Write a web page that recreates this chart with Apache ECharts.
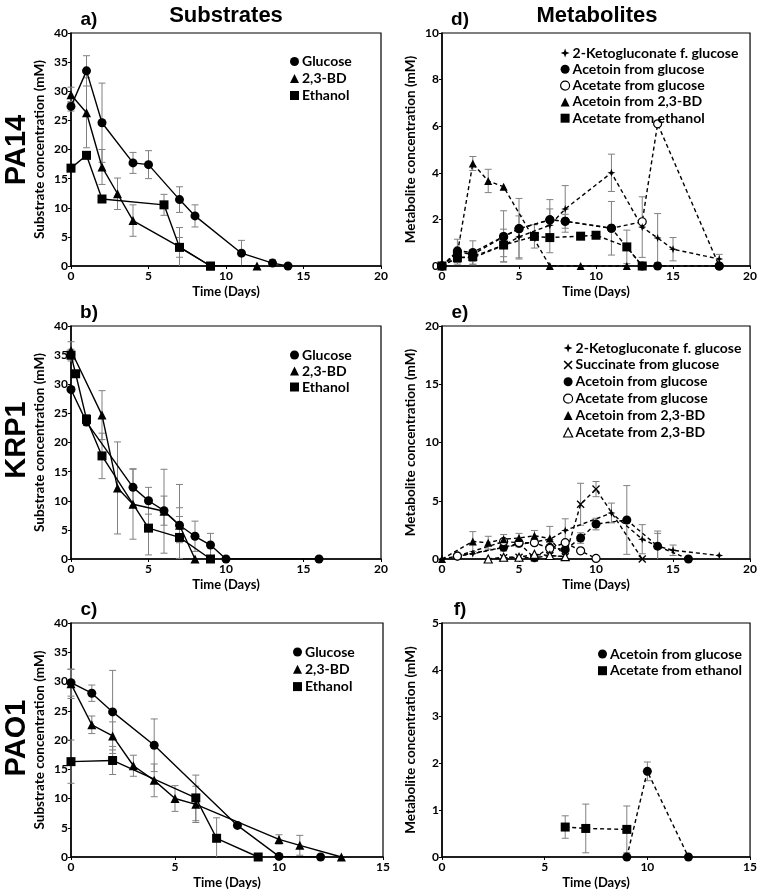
<!DOCTYPE html>
<html><head><meta charset="utf-8">
<script src="https://cdn.jsdelivr.net/npm/echarts@6/dist/echarts.min.js"></script>
<style>html,body{margin:0;padding:0;background:#fff}#c{width:760px;height:896px}</style>
</head><body><div id="c"></div>
<script>
// ---------- Panel a (PA14 substrates) ----------
const aGlucoseX = [0,1,2,4,5,7,8,11,13,14];
const aGlucoseY = [27.4,33.5,24.6,17.7,17.4,11.4,8.6,2.2,0.5,0];
const aGlucoseErr = [0.8,2.6,6.8,1.8,2.4,2.2,1.9,2.2,0.6,0];
const aBdX = [0,1,2,3,4,7,9,12];
const aBdY = [29.4,26.3,17.0,12.4,7.8,3.3,0,0];
const aBdErr = [1.3,6.0,3.0,2.7,2.7,3.3,0,0];
const aEthX = [0,1,2,6,7,9];
const aEthY = [16.8,19.0,11.5,10.5,3.2,0];
const aEthErr = [0.6,0.6,0.5,1.8,1.7,0];
// ---------- Panel b (KRP1 substrates) ----------
const bGlucoseX = [0,1,4,5,6,7,8,9,10,16];
const bGlucoseY = [29.1,23.5,12.3,10.0,8.3,5.8,3.9,2.4,0,0];
const bGlucoseErr = [0,0.6,3.2,2.3,2.5,3.0,2.6,2.0,0,0];
const bBdX = [0,2,3,4,6,7,8];
const bBdY = [35.8,24.7,12.2,9.4,8.2,5.8,0];
const bBdErr = [1.5,4.2,7.9,6.0,7.2,7.0,0];
const bEthX = [0,0.3,1,2,5,7,9];
const bEthY = [35.0,31.8,24.0,17.7,5.3,3.7,0];
const bEthErr = [1.0,0,0.8,3.9,4.6,3.6,0];
// ---------- Panel c (PAO1 substrates) ----------
const cGlucoseX = [0,1,2,4,8,10,12];
const cGlucoseY = [29.8,28.0,24.8,19.1,5.4,0.1,0];
const cGlucoseErr = [2.3,1.4,7.1,4.5,0.3,0,0];
const cBdX = [0,1,2,3,4,5,6,10,11,13];
const cBdY = [29.6,22.6,20.7,15.6,13.1,10.0,9.0,3.0,2.0,0];
const cBdErr = [2.5,1.5,2.4,1.8,2.8,2.2,3.1,0.8,1.7,0];
const cEthX = [0,2,6,7,9];
const cEthY = [16.3,16.5,10.1,3.2,0];
const cEthErr = [3.7,2.4,3.9,3.5,0];
// ---------- Panel d (PA14 metabolites) ----------
const dKetoX = [0,1,2,4,5,7,8,11,13,14,15,18];
const dKetoY = [0,0.38,0.35,0.88,1.25,1.75,2.45,4.0,1.67,1.2,0.72,0.3];
const dKetoErr = [0,0.3,0.3,0.7,0.9,0.7,1.0,0.8,1.3,1.05,0.5,0.2];
const dAcetoinGluX = [0,1,2,4,5,7,8,11,13,14,18];
const dAcetoinGluY = [0,0.65,0.58,1.27,1.6,1.98,1.92,1.62,0,0,0];
const dAcetoinGluErr = [0,0.5,0.5,1.1,1.3,0.87,0.3,1.15,0,0,0];
const dAcetateGluX = [0,1,2,4,5,7,8,11,13,14,18];
const dAcetateGluY = [0,0.6,0.5,1.25,1.6,1.98,1.92,1.62,1.9,6.1,0];
const dAcetoinBdX = [0,1,2,3,4,7,9,12];
const dAcetoinBdY = [0,0.55,4.4,3.65,3.4,0,0,0];
const dAcetoinBdErr = [0,0,0.3,0.5,0,0,0,0];
const dAcetateEthX = [0,1,2,4,6,7,9,10,12,13];
const dAcetateEthY = [0,0.35,0.4,0.9,1.27,1.22,1.28,1.32,0.82,0];
const dAcetateEthErr = [0,0.2,0.2,0.5,0.5,0.65,0,0,0.72,0];
// ---------- Panel e (KRP1 metabolites) ----------
const eKetoX = [0,1,2,4,7,8,11,13,14,15,18];
const eKetoY = [0,0.25,0.45,1.0,1.7,2.45,3.95,1.7,1.1,0.75,0.3];
const eKetoErr = [0,0,0,0.3,0,1.0,0.85,1.25,1.3,0.45,0];
const eSuccX = [4,5,6,7,8,9,10,13];
const eSuccY = [0.1,0.15,0.1,0.3,0.2,4.7,6.0,0];
const eSuccErr = [0,0,0,0,0,1.8,0.65,0];
const eAcetoinGluX = [1,4,5,6,7,8,9,10,12,14,16];
const eAcetoinGluY = [0.25,1.0,1.35,0.1,1.0,0.8,1.8,3.0,3.35,1.1,0];
const eAcetoinGluErr = [0,0.3,0.3,0,0.5,0,0.45,0.5,2.95,1.1,0];
const eAcetateGluX = [1,4,5,6,7,8,9,10];
const eAcetateGluY = [0.25,1.5,1.4,1.4,0.9,1.4,0.7,0.05];
const eAcetoinBdX = [0,2,3,4,5,6,7,8];
const eAcetoinBdY = [0,1.5,1.4,1.7,1.8,2.0,1.75,0.2];
const eAcetoinBdErr = [0,0.85,0.55,0.4,0.4,0.45,1.05,0];
const eAcetateBdX = [3,4,5,6,7,8];
const eAcetateBdY = [0,0.15,0.15,0.4,0.3,0.2];
// ---------- Panel f (PAO1 metabolites) ----------
const fAcetoinGluX = [9,10,12];
const fAcetoinGluY = [0,1.83,0];
const fAcetoinGluErr = [0,0.2,0];
const fAcetateEthX = [6,7,9];
const fAcetateEthY = [0.64,0.61,0.59];
const fAcetateEthErr = [0.24,0.52,0.5];

const STAR4 = 'path://M5,0 L6.3,3.7 L10,5 L6.3,6.3 L5,10 L3.7,6.3 L0,5 L3.7,3.7 Z';
const XMARK = 'path://M0,1.2 L1.2,0 L5,3.8 L8.8,0 L10,1.2 L6.2,5 L10,8.8 L8.8,10 L5,6.2 L1.2,10 L0,8.8 L3.8,5 Z';

const grids = [
  {left:71, top:33, width:310, height:233},
  {left:442, top:33, width:310, height:233},
  {left:71, top:326, width:310, height:233},
  {left:442, top:326, width:310, height:233},
  {left:71, top:623, width:312, height:234},
  {left:442, top:623, width:312, height:234}
];
const xMax = [20,20,20,20,15,15];
const yMax = [40,10,40,20,40,5];
const yInt = [5,2,5,5,5,1];
const yName = ['Substrate concentration (mM)','Metabolite concentration (mM)'];

const FONT = 'Lato';
const series = [];

function add(g, name, xs, ys, errs, symbol, size, dashed, empty) {
  series.push({
    type:'line', name:name, xAxisIndex:g, yAxisIndex:g,
    data: xs.map((x,i)=>[x, ys[i]]),
    symbol: symbol, symbolSize: size, showSymbol:true,
    lineStyle:{color:'#000', width:1.4, type: dashed ? [4,3] : 'solid'},
    itemStyle: empty ? {color:'#fff', borderColor:'#000', borderWidth:1.2} : {color:'#000', borderColor:'#000', borderWidth:0},
    z: 3, animation:false, silent:true
  });
  if (errs) {
    const ed = [];
    xs.forEach((x,i)=>{ if (errs[i] > 0) ed.push([x, Math.max(0, ys[i]-errs[i]), ys[i]+errs[i]]); });
    series.push({
      type:'custom', name: name + ' err', xAxisIndex:g, yAxisIndex:g, z:2, animation:false, silent:true,
      data: ed, encode:{x:0, y:[1,2]},
      renderItem: function(params, api){
        const x = api.value(0), lo = api.value(1), hi = api.value(2);
        const p1 = api.coord([x, lo]), p2 = api.coord([x, hi]);
        const w = 3.5, st = {stroke:'#808080', lineWidth:1};
        const ch = [
          {type:'line', shape:{x1:p1[0], y1:p1[1], x2:p2[0], y2:p2[1]}, style:st},
          {type:'line', shape:{x1:p2[0]-w, y1:p2[1], x2:p2[0]+w, y2:p2[1]}, style:st}
        ];
        if (lo > 0) ch.push({type:'line', shape:{x1:p1[0]-w, y1:p1[1], x2:p1[0]+w, y2:p1[1]}, style:st});
        return {type:'group', children: ch};
      }
    });
  }
}

// Panel a
add(0,'Glucose',aGlucoseX,aGlucoseY,aGlucoseErr,'circle',9,false);
add(0,'2,3-BD',aBdX,aBdY,aBdErr,'triangle',9,false);
add(0,'Ethanol',aEthX,aEthY,aEthErr,'rect',9,false);
// Panel b
add(2,'Glucose',bGlucoseX,bGlucoseY,bGlucoseErr,'circle',9,false);
add(2,'2,3-BD',bBdX,bBdY,bBdErr,'triangle',9,false);
add(2,'Ethanol',bEthX,bEthY,bEthErr,'rect',9,false);
// Panel c
add(4,'Glucose',cGlucoseX,cGlucoseY,cGlucoseErr,'circle',9,false);
add(4,'2,3-BD',cBdX,cBdY,cBdErr,'triangle',9,false);
add(4,'Ethanol',cEthX,cEthY,cEthErr,'rect',9,false);
// Panel d
add(1,'Acetate from glucose',dAcetateGluX,dAcetateGluY,null,'circle',8,true,true);
add(1,'2-Ketogluconate f. glucose',dKetoX,dKetoY,dKetoErr,STAR4,8,true);
add(1,'Acetoin from glucose',dAcetoinGluX,dAcetoinGluY,dAcetoinGluErr,'circle',9,true);
add(1,'Acetoin from 2,3-BD',dAcetoinBdX,dAcetoinBdY,dAcetoinBdErr,'triangle',8,true);
add(1,'Acetate from ethanol',dAcetateEthX,dAcetateEthY,dAcetateEthErr,'rect',9,true);
// Panel e
add(3,'2-Ketogluconate f. glucose',eKetoX,eKetoY,eKetoErr,STAR4,8,true);
add(3,'Succinate from glucose',eSuccX,eSuccY,eSuccErr,XMARK,8,true);
add(3,'Acetoin from glucose',eAcetoinGluX,eAcetoinGluY,eAcetoinGluErr,'circle',9,true);
add(3,'Acetate from glucose',eAcetateGluX,eAcetateGluY,null,'circle',8,true,true);
add(3,'Acetoin from 2,3-BD',eAcetoinBdX,eAcetoinBdY,eAcetoinBdErr,'triangle',8,true);
add(3,'Acetate from 2,3-BD',eAcetateBdX,eAcetateBdY,null,'triangle',8,true,true);
// Panel f
add(5,'Acetoin from glucose',fAcetoinGluX,fAcetoinGluY,fAcetoinGluErr,'circle',9,true);
add(5,'Acetate from ethanol',fAcetateEthX,fAcetateEthY,fAcetateEthErr,'rect',9,true);

const xAxes = grids.map((g,i)=>({
  type:'value', gridIndex:i, min:0, max:xMax[i], interval:5,
  name:'Time (Days)', nameLocation:'middle', nameGap:19,
  nameTextStyle:{fontFamily:FONT, fontWeight:'bold', fontSize:13, color:'#000'},
  axisLine:{show:true, onZero:false, lineStyle:{color:'#000', width:1.5}},
  axisTick:{show:true, length:3, lineStyle:{color:'#000'}},
  axisLabel:{fontFamily:FONT, fontWeight:'bold', fontSize:12, color:'#000', margin:4},
  splitLine:{show:false}
}));
const yAxes = grids.map((g,i)=>({
  type:'value', gridIndex:i, min:0, max:yMax[i], interval:yInt[i],
  name: yName[i%2], nameLocation:'middle', nameGap:24,
  nameTextStyle:{fontFamily:FONT, fontWeight:'bold', fontSize:13.5, color:'#000'},
  axisLine:{show:true, onZero:false, lineStyle:{color:'#000', width:1.5}},
  axisTick:{show:true, length:3, lineStyle:{color:'#000'}},
  axisLabel:{fontFamily:FONT, fontWeight:'bold', fontSize:12, color:'#000', margin:3},
  splitLine:{show:false}
}));

function legend(left, top, items, gap) {
  return {
    left:left, top:top, orient:'vertical', itemWidth:9, itemHeight:9, itemGap:gap,
    selectedMode:false,
    textStyle:{fontFamily:FONT, fontWeight:'bold', fontSize:14, color:'#000', padding:[0,0,0,-2]},
    data: items.map(it=>({name:it[0], icon:it[1], itemStyle: it[2] ? {color:'#fff', borderColor:'#000', borderWidth:1.2} : {color:'#000'}}))
  };
}
const subItems = [['Glucose','circle'],['2,3-BD','triangle'],['Ethanol','rect']];

const legends = [
  legend(285, 49.5, subItems, 3),
  legend(285, 343, subItems, 2),
  legend(288, 640, subItems, 3.3),
  legend(555, 41, [['2-Ketogluconate f. glucose',STAR4],['Acetoin from glucose','circle'],['Acetate from glucose','circle',true],['Acetoin from 2,3-BD','triangle'],['Acetate from ethanol','rect']], 2.3),
  legend(558, 336, [['2-Ketogluconate f. glucose',STAR4],['Succinate from glucose',XMARK],['Acetoin from glucose','circle'],['Acetate from glucose','circle',true],['Acetoin from 2,3-BD','triangle'],['Acetate from 2,3-BD','triangle',true]], 2.9),
  legend(593, 642, [['Acetoin from glucose','circle'],['Acetate from ethanol','rect']], 2.7)
];

function txt(x, y, text, font, rot) {
  return {type:'text', x:x, y:y, rotation: rot || 0, silent:true,
    style:{text:text, font:font, fill:'#000', align:'center', verticalAlign:'middle'}};
}
const graphics = [
  txt(226, 16, 'Substrates', 'bold 22px "Liberation Sans"'),
  txt(597, 16, 'Metabolites', 'bold 22px "Liberation Sans"'),
  txt(89, 20, 'a)', 'bold 19px "Liberation Sans"'),
  txt(89, 313, 'b)', 'bold 19px "Liberation Sans"'),
  txt(89, 610, 'c)', 'bold 19px "Liberation Sans"'),
  txt(460, 20, 'd)', 'bold 19px "Liberation Sans"'),
  txt(460, 313, 'e)', 'bold 19px "Liberation Sans"'),
  txt(460, 610, 'f)', 'bold 19px "Liberation Sans"'),
  txt(17, 150, 'PA14', 'bold 29px "Liberation Sans"', Math.PI/2),
  txt(17, 440, 'KRP1', 'bold 29px "Liberation Sans"', Math.PI/2),
  txt(17, 738, 'PAO1', 'bold 29px "Liberation Sans"', Math.PI/2)
];

const chart = echarts.init(document.getElementById('c'), null, {renderer:'canvas'});
chart.setOption({
  animation:false,
  backgroundColor:'#fff',
  grid: grids.map(g=>Object.assign({show:true, borderColor:'#000', borderWidth:1.2, backgroundColor:'transparent'}, g)),
  xAxis: xAxes, yAxis: yAxes,
  legend: legends,
  series: series,
  graphic: graphics
});
</script></body></html>
